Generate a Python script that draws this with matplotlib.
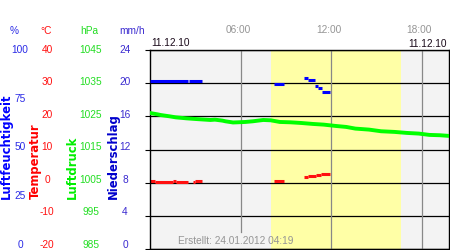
import matplotlib
matplotlib.use("Agg")
import matplotlib.pyplot as plt
import numpy as np

# ---------------- data ----------------
temp_ticks = [40, 30, 20, 10, 0, -10, -20]
hum_ticks = [100, 75, 50, 25, 0]
pres_ticks = [1045, 1035, 1025, 1015, 1005, 995, 985]
rain_ticks = [24, 20, 16, 12, 8, 4, 0]
time_ticks = [6, 12, 18]
time_labels = ["06:00", "12:00", "18:00"]
date_label = "11.12.10"
created_label = "Erstellt: 24.01.2012 04:19"
daylight = (8.0, 16.6)

# humidity (%) as interval segments
hum_start = [0.00, 2.55, 8.19, 10.18, 10.44, 10.92, 11.12, 11.38]
hum_end = [2.49, 3.42, 8.85, 10.44, 10.92, 11.12, 11.38, 11.93]
hum_val = [84.6, 84.6, 82.9, 85.9, 84.8, 81.8, 80.7, 78.7]

# temperature (°C) as interval segments
temp_start = [0.01, 0.36, 1.50, 1.69, 2.82, 3.00, 8.19, 10.18, 10.44, 10.97, 11.35]
temp_end = [0.36, 1.50, 1.69, 2.49, 3.00, 3.42, 8.85, 10.44, 10.97, 11.35, 11.90]
temp_val = [0.5, 0.1, 0.5, 0.1, 0.1, 0.5, 0.6, 1.7, 1.95, 2.2, 2.5]

# pressure (hPa)
pres_t = [0.0, 0.5, 0.7, 1.3, 1.7, 2.4, 3.0, 4.0, 4.3, 4.8, 5.0, 5.5, 5.8, 6.3,
          6.8, 7.5, 8.0, 8.6, 9.3, 10.0, 10.8, 11.5, 12.3, 13.0, 13.6, 14.5,
          15.3, 16.2, 17.0, 17.8, 18.5, 19.2, 19.8]
pres_v = [1026.0, 1025.6, 1025.4, 1025.0, 1024.7, 1024.4, 1024.2, 1023.9, 1024.0,
          1023.7, 1023.5, 1023.15, 1023.2, 1023.3, 1023.5, 1023.9, 1023.8, 1023.3,
          1023.2, 1023.0, 1022.7, 1022.5, 1022.1, 1021.8, 1021.3, 1021.0, 1020.5,
          1020.3, 1020.0, 1019.8, 1019.4, 1019.3, 1019.1]

# ---------------- style ----------------
W, H = 450, 250
plt.rcParams['font.family'] = ['Liberation Sans', 'DejaVu Sans']
FS = 7.3
BG = '#f3f3f3'
YEL = '#ffffa6'
C_HUM = '#2a2ae6'
C_TEMP = '#ff1010'
C_PRES = '#22dd22'
C_RAIN = '#3a2ad0'
GRAY = '#959595'

fig = plt.figure(figsize=(W / 100, H / 100), dpi=100)
L, R, T, B = 150, 449, 50, 249
ax = fig.add_axes([L / W, 1 - B / H, (R - L) / W, (B - T) / H])
ax.set_facecolor(BG)
ax.set_xlim(0, 19.8)
ax.set_ylim(min(temp_ticks), max(temp_ticks))
ax.set_yticks(temp_ticks)
ax.set_xticks([])
ax.tick_params(left=False, labelleft=False)
ax.grid(axis='y', color='black', lw=0.9, zorder=1)
ax.set_axisbelow(True)
for s in ax.spines.values():
    s.set_color('black')
    s.set_linewidth(1.0)
    s.set_zorder(10)

ax.axvspan(daylight[0], daylight[1], color=YEL, lw=0, zorder=0.5)
for t in time_ticks:
    ax.axvline(t, ymin=(17 / 199 if t == 6 else 0), color='#888888', lw=0.9, zorder=1.1)

ax.hlines(temp_val, temp_start, temp_end, colors=C_TEMP, lw=2.2, zorder=4)

ax_h = ax.twinx()
ax_h.set_ylim(0, 100)
ax_h.axis('off')
ax_h.hlines(hum_val, hum_start, hum_end, colors='#0000ff', lw=2.2, zorder=4)

ax_p = ax.twinx()
ax_p.set_ylim(min(pres_ticks), max(pres_ticks))
ax_p.axis('off')
ax_p.plot(pres_t, pres_v, color='#00ff00', lw=2.8, solid_joinstyle='miter', zorder=4)


def ft(px, py, s, **kw):
    fig.text(px / W, 1 - py / H, s, fontsize=kw.pop('fontsize', FS), **kw)


# headers
ft(14, 31, "%", color=C_HUM, ha='center', va='center')
ft(46.5, 31, "°C", color=C_TEMP, ha='center', va='center')
ft(89.5, 31, "hPa", color=C_PRES, ha='center', va='center')
ft(132, 31, "mm/h", color=C_RAIN, ha='center', va='center')

SPAN = 194.5


def lab_y(v, ticks):
    return T + (max(ticks) - v) / (max(ticks) - min(ticks)) * SPAN


for v in hum_ticks:
    ft(20, lab_y(v, hum_ticks), str(v), color=C_HUM, ha='center', va='center')
for v in temp_ticks:
    ft(47, lab_y(v, temp_ticks), str(v), color=C_TEMP, ha='center', va='center')
for v in pres_ticks:
    ft(91, lab_y(v, pres_ticks), str(v), color=C_PRES, ha='center', va='center')
for v in rain_ticks:
    ft(125, lab_y(v, rain_ticks), str(v), color=C_RAIN, ha='center', va='center')

# rotated axis titles
RFS = 8.4
ft(6.2, 199, "Luftfeuchtigkeit", color='#0000ff', rotation=90, ha='center', va='bottom',
   fontweight='bold', fontsize=RFS, family='DejaVu Sans')
ft(35, 199, "Temperatur", color='#ff0000', rotation=90, ha='center', va='bottom',
   fontweight='bold', fontsize=RFS, family='DejaVu Sans')
ft(72, 199, "Luftdruck", color='#00ee00', rotation=90, ha='center', va='bottom',
   fontweight='bold', fontsize=RFS, family='DejaVu Sans')
ft(113, 199, "Niederschlag", color='#0000cc', rotation=90, ha='center', va='bottom',
   fontweight='bold', fontsize=RFS, family='DejaVu Sans')

# time labels
for t, s in zip(time_ticks, time_labels):
    xp = L + t / 19.8 * (R - L) - 2.5
    ft(xp, 30, s, color=GRAY, ha='center', va='center')
ft(151, 43, date_label, color='#1a0a1a', ha='left', va='center')
ft(447, 44, date_label, color='#1a0a1a', ha='right', va='center')

ft(236, 241, created_label, color=GRAY, ha='center', va='center', zorder=20)

fig.savefig("out.png", dpi=100, facecolor='white')
